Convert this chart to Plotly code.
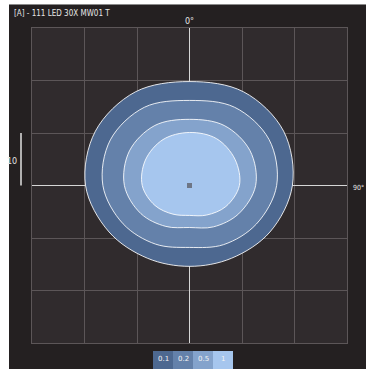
import numpy as np
import plotly.graph_objects as go

# Iso-intensity contours, radius (grid units) sampled every 30 degrees from the +x axis
angles_deg = [0, 30, 60, 90, 120, 150, 180, 210, 240, 270, 300, 330]
levels = ["0.1", "0.2", "0.5", "1"]
r_level_01 = [19.6, 20.7, 20.6, 19.8, 20.6, 20.7, 19.8, 17.7, 16.0, 15.4, 16.0, 17.7]
r_level_02 = [16.6, 17.5, 17.2, 16.2, 17.2, 17.4, 16.5, 14.6, 12.9, 11.8, 13.0, 14.7]
r_level_05 = [12.6, 13.3, 13.2, 12.6, 13.2, 13.2, 12.4, 10.7, 9.0, 8.0, 9.1, 10.8]
r_level_1 = [9.5, 10.0, 10.3, 10.1, 10.1, 9.7, 9.0, 7.6, 6.3, 5.7, 6.5, 8.0]
level_colors = ["#4d6890", "#6481aa", "#84a3cc", "#a6c6ee"]
scale_bar_len = 10

W, H = 366, 369
L, R, T, B = 32, 19, 28, 26
PW = W - L - R
PH = H - T - B


def px_x(px):
    return (px - L) / PW


def px_y(py):
    return (H - B - py) / PH


fig = go.Figure()

theta = np.radians(angles_deg)
for name, radii, color in zip(levels, [r_level_01, r_level_02, r_level_05, r_level_1], level_colors):
    r = np.array(radii)
    xs = list(r * np.cos(theta))
    ys = list(r * np.sin(theta))
    xs.append(xs[0])
    ys.append(ys[0])
    fig.add_trace(go.Scatter(
        x=xs, y=ys, mode="lines", fill="toself", fillcolor=color,
        line=dict(color="rgba(255,255,255,0.85)", width=1, shape="spline", smoothing=1.0),
        name=name, showlegend=False, hoverinfo="skip",
    ))

# source marker at the origin
fig.add_trace(go.Scatter(
    x=[0], y=[0], mode="markers",
    marker=dict(symbol="square", size=5, color="#6e7686"),
    showlegend=False, hoverinfo="skip",
))

axis_common = dict(
    range=[-30, 30], dtick=10, tick0=0, showticklabels=False, ticks="",
    showgrid=True, gridcolor="#5c5658", gridwidth=1,
    zeroline=True, zerolinecolor="#d6d6d6", zerolinewidth=1.2,
    showline=True, linecolor="#5c5658", linewidth=1, mirror=True,
    fixedrange=True,
)

shapes = [
    # white margins at the left and top edge
    dict(type="rect", xref="paper", yref="paper", x0=px_x(-2), x1=px_x(9),
         y0=px_y(H + 2), y1=px_y(-2), fillcolor="white", line=dict(width=0), layer="above"),
    dict(type="rect", xref="paper", yref="paper", x0=px_x(-2), x1=px_x(W + 2),
         y0=px_y(4), y1=px_y(-2), fillcolor="white", line=dict(width=0), layer="above"),
    dict(type="line", xref="paper", yref="paper", x0=px_x(9), x1=px_x(W + 2),
         y0=px_y(4.5), y1=px_y(4.5), line=dict(color="#8a8a8a", width=1), layer="above"),
    # scale bar
    dict(type="line", xref="paper", yref="y", x0=px_x(21), x1=px_x(21),
         y0=0, y1=scale_bar_len, line=dict(color="#e0e0e0", width=1.5), layer="above"),
]

annotations = [
    dict(text="[A] - 111 LED 30X MW01 T", xref="paper", yref="paper", x=px_x(12), y=px_y(14),
         xanchor="left", yanchor="middle", showarrow=False,
         font=dict(family="DejaVu Sans Condensed", size=8, color="#e6e6e6")),
    dict(text="0°", xref="x", yref="paper", x=0, y=px_y(21),
         xanchor="center", yanchor="middle", showarrow=False,
         font=dict(family="DejaVu Sans", size=8, color="#e6e6e6")),
    dict(text="90°", xref="paper", yref="paper", x=px_x(351), y=px_y(188),
         xanchor="left", yanchor="middle", showarrow=False,
         font=dict(family="DejaVu Sans Condensed", size=7, color="#e6e6e6")),
    dict(text=str(scale_bar_len), xref="paper", yref="paper", x=px_x(19), y=px_y(161),
         xanchor="right", yanchor="middle", showarrow=False,
         font=dict(family="DejaVu Sans", size=8, color="#e6e6e6")),
]

# colour key below the plot
box_w = 20
key_x0 = 153
for i, (name, color) in enumerate(zip(levels, level_colors)):
    x0 = key_x0 + i * box_w
    shapes.append(dict(type="rect", xref="paper", yref="paper",
                       x0=px_x(x0), x1=px_x(x0 + box_w), y0=px_y(H + 2), y1=px_y(351),
                       fillcolor=color, line=dict(width=0), layer="above"))
    annotations.append(dict(text=name, xref="paper", yref="paper",
                            x=px_x(x0 + box_w / 2), y=px_y(359),
                            xanchor="center", yanchor="middle", showarrow=False,
                            font=dict(family="DejaVu Sans", size=7, color="#f2f2f2")))

fig.update_layout(
    width=W, height=H,
    margin=dict(l=L, r=R, t=T, b=B, pad=0),
    paper_bgcolor="#242021",
    plot_bgcolor="#302b2d",
    xaxis=axis_common,
    yaxis=axis_common,
    shapes=shapes,
    annotations=annotations,
    showlegend=False,
)

fig.write_html("out.html")
